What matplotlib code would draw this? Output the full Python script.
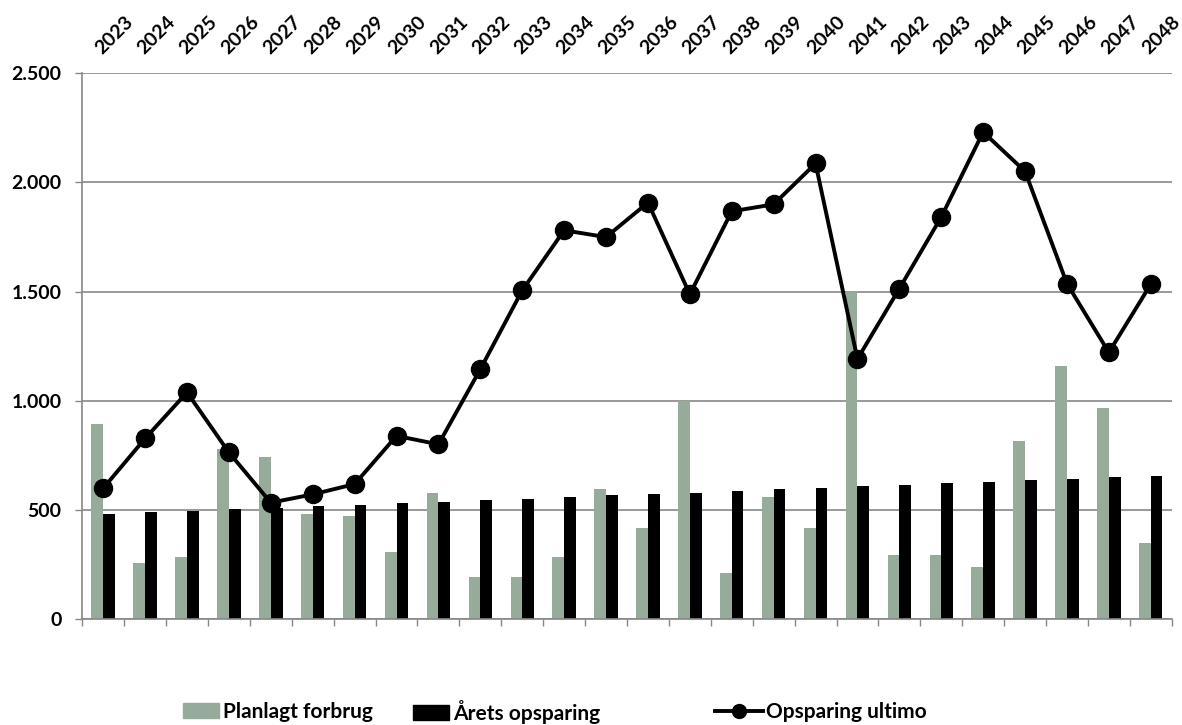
import matplotlib
matplotlib.use('Agg')
import numpy as np
from matplotlib import pyplot as plt
from matplotlib.lines import Line2D
from matplotlib.patches import Patch
from matplotlib.ticker import FuncFormatter
from matplotlib.transforms import ScaledTranslation

years = list(range(2023, 2049))
planlagt_forbrug = [895, 257, 284, 779, 741, 480, 473, 309, 578, 195,
                    194, 284, 596, 418, 1000, 210, 561, 418, 1500, 294,
                    294, 239, 817, 1160, 966, 348]
aarets_opsparing = [483, 490, 496, 503, 509, 517, 525, 532, 538, 546,
                    553, 560, 567, 573, 578, 586, 595, 602, 609, 615,
                    622, 630, 637, 644, 650, 657]
opsparing_ultimo = [600, 828, 1039, 764, 534, 572, 619, 840, 801, 1145,
                    1506, 1781, 1750, 1908, 1488, 1868, 1900, 2087, 1192, 1514,
                    1842, 2231, 2051, 1537, 1222, 1534]

gray_green = '#97ab9b'
grid_gray = '#878787'
plt.rcParams['font.family'] = ['Lato', 'DejaVu Sans']
plt.rcParams['font.weight'] = 'bold'

fig = plt.figure(figsize=(11.82, 7.25), dpi=100)
ax = fig.add_axes([0.0696, 0.1458, 0.9217, 0.7531])

x = np.arange(len(years))
w = 0.28
ax.bar(x - w / 2, planlagt_forbrug, w, color=gray_green, zorder=2)
ax.bar(x + w / 2, aarets_opsparing, w, color='black', zorder=2)
ax.plot(x, opsparing_ultimo, color='black', lw=2.8, marker='o', ms=13, zorder=3)

ax.set_xlim(-0.5, len(years) - 0.5)
ax.set_ylim(0, 2500)
ax.set_yticks(np.arange(0, 2501, 500))
ax.yaxis.set_major_formatter(FuncFormatter(lambda v, p: f'{int(v):,}'.replace(',', '.')))
ax.yaxis.grid(True, color=grid_gray, lw=1.2, zorder=0)
ax.set_axisbelow(True)

ax.set_xticks(x)
ax.set_xticklabels([str(y) for y in years])
ax.set_xticks(np.arange(len(years) + 1) - 0.5, minor=True)
ax.tick_params(axis='x', which='major', top=False, bottom=False,
               labeltop=True, labelbottom=False, pad=13, labelsize=14)
ax.tick_params(axis='x', which='minor', bottom=True, length=5, width=1, color=grid_gray)
ax.tick_params(axis='y', length=5, width=1, color=grid_gray, pad=10, labelsize=14)
shift = ScaledTranslation(-6 / 100, 0, fig.dpi_scale_trans)
for lbl in ax.get_xticklabels():
    lbl.set_rotation(45)
    lbl.set_rotation_mode('anchor')
    lbl.set_ha('left')
    lbl.set_va('center_baseline')
    lbl.set_fontweight('bold')
    lbl.set_transform(lbl.get_transform() + shift)
for lbl in ax.get_yticklabels():
    lbl.set_fontweight('bold')

for s in ['top', 'right']:
    ax.spines[s].set_visible(False)
for s in ['left', 'bottom']:
    ax.spines[s].set_color(grid_gray)
    ax.spines[s].set_linewidth(1.2)

# three separate legend entries, placed like the original
entries = [
    (Patch(color=gray_green), 'Planlagt forbrug', 183, 1.75),
    (Patch(color='black'), 'Årets opsparing', 413, 1.75),
    (Line2D([], [], color='black', lw=2.8, marker='o', ms=10), 'Opsparing ultimo', 715, 2.3),
]
for h, txt, px, hl in entries:
    fig.legend(handles=[h], labels=[txt], loc='center left',
               bbox_to_anchor=(px / 1182, 1 - 712 / 725), frameon=False,
               borderpad=0, borderaxespad=0, handlelength=hl, handletextpad=0.15,
               prop={'weight': 'bold', 'size': 15})

fig.savefig('out.png', dpi=100)
